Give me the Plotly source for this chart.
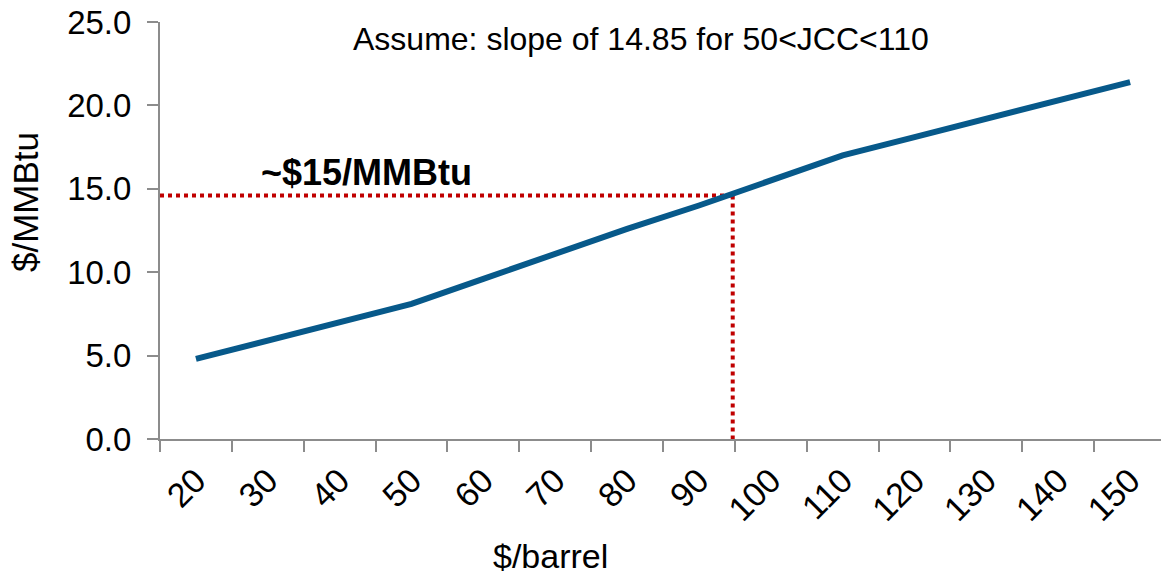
import plotly.graph_objects as go

# JCC crude price ($/barrel) and the oil-linked LNG price ($/MMBtu)
jcc = [20, 30, 40, 50, 60, 70, 80, 90, 100, 110, 120, 130, 140, 150]
lng_price = [4.8, 5.9, 7.0, 8.1, 9.6, 11.1, 12.6, 14.0, 15.5, 17.0, 18.1, 19.2, 20.3, 21.4]

# ~$15/MMBtu reference point
ref_jcc = 94.7
ref_price = 14.6

y_ticks = [0, 5, 10, 15, 20, 25]
category_edges = [15 + 10 * i for i in range(15)]

FONT = "Liberation Sans, Arial, sans-serif"
AXIS_GREY = "#8c8c8c"
LINE_BLUE = "#07598a"
REF_RED = "#c00000"

W, H = 1161, 578
L, R, T, B = 160, 0, 22, 139
plot_w = W - L - R
plot_h = H - T - B


def px(x):
    return (x - L) / plot_w


def py(y):
    return (H - B - y) / plot_h


fig = go.Figure()

fig.add_trace(go.Scatter(
    x=[category_edges[0], ref_jcc, None, ref_jcc, ref_jcc],
    y=[ref_price, ref_price, None, ref_price, 0],
    mode="lines",
    line=dict(color=REF_RED, width=4, dash="dot"),
    hoverinfo="skip",
    showlegend=False,
))

fig.add_trace(go.Scatter(
    x=jcc,
    y=lng_price,
    mode="lines",
    line=dict(color=LINE_BLUE, width=6),
    showlegend=False,
))

fig.update_layout(
    width=W,
    height=H,
    margin=dict(l=L, r=R, t=T, b=B, pad=0),
    paper_bgcolor="white",
    plot_bgcolor="white",
    font=dict(family=FONT, color="black"),
    xaxis=dict(
        range=[15, 15 + plot_w / 7.186],
        tickmode="array",
        tickvals=jcc,
        ticktext=[str(v) for v in jcc],
        tickangle=-45,
        tickfont=dict(size=34),
        ticks="outside",
        ticklen=6,
        tickcolor="rgba(0,0,0,0)",
        showline=True,
        linecolor=AXIS_GREY,
        linewidth=2,
        showgrid=False,
        zeroline=False,
        minor=dict(
            tickmode="array",
            tickvals=category_edges,
            ticks="outside",
            ticklen=11,
            tickwidth=2,
            tickcolor=AXIS_GREY,
            showgrid=False,
        ),
    ),
    yaxis=dict(
        range=[0, 25],
        tickmode="array",
        tickvals=y_ticks,
        ticktext=[f"{v:.1f}" for v in y_ticks],
        tickfont=dict(size=33),
        ticks="outside",
        ticklen=11,
        tickwidth=2,
        tickcolor=AXIS_GREY,
        ticklabelstandoff=9,
        showline=True,
        linecolor=AXIS_GREY,
        linewidth=2,
        showgrid=False,
        zeroline=False,
    ),
    shapes=[
        # short extension of the category axis to the left of the value axis
        dict(type="line", xref="paper", yref="paper",
             x0=px(149), x1=0, y0=0, y1=0,
             line=dict(color=AXIS_GREY, width=2)),
    ],
    annotations=[
        dict(text="Assume: slope of 14.85 for 50<JCC<110",
             xref="paper", yref="paper", x=px(641), y=py(39),
             xanchor="center", yanchor="middle", showarrow=False,
             font=dict(size=32)),
        dict(text="<b>~$15/MMBtu</b>",
             xref="paper", yref="paper", x=px(259), y=py(172),
             xanchor="left", yanchor="middle", showarrow=False,
             font=dict(size=36)),
        dict(text="$/MMBtu",
             xref="paper", yref="paper", x=px(25), y=py(202),
             xanchor="center", yanchor="middle", showarrow=False,
             textangle=-90, font=dict(size=35)),
        dict(text="$/barrel",
             xref="paper", yref="paper", x=px(550), y=py(556),
             xanchor="center", yanchor="middle", showarrow=False,
             font=dict(size=34)),
    ],
)

fig.write_html("out.html")
